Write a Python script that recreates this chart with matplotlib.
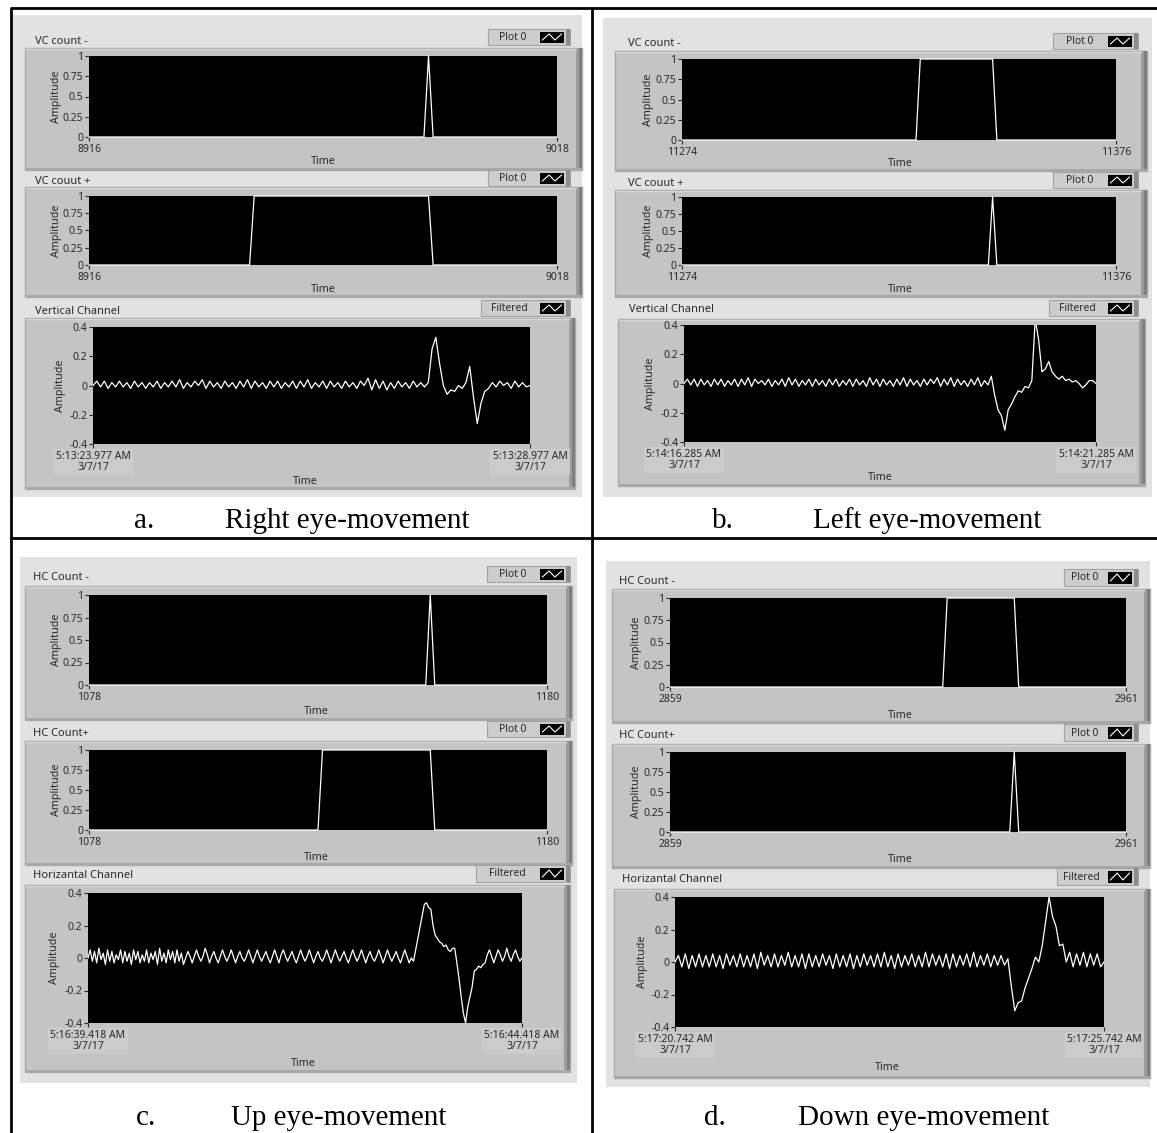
import numpy as np
import matplotlib.pyplot as plt
from matplotlib.patches import Rectangle

plt.rcParams['font.family'] = ['Noto Sans', 'DejaVu Sans']

# ---- count channels: sample index / value at the corners of each pulse ----
a_minus_x = [8916, 8989, 8990, 8991, 9018]
a_minus_y = [0, 0, 1, 0, 0]
a_plus_x = [8916, 8951, 8952, 8990, 8991, 9018]
a_plus_y = [0, 0, 1, 1, 0, 0]
b_minus_x = [11274, 11329, 11330, 11347, 11348, 11376]
b_minus_y = [0, 0, 1, 1, 0, 0]
b_plus_x = [11274, 11346, 11347, 11348, 11376]
b_plus_y = [0, 0, 1, 0, 0]
c_minus_x = [1078, 1153, 1154, 1155, 1180]
c_minus_y = [0, 0, 1, 0, 0]
c_plus_x = [1078, 1129, 1130, 1154, 1155, 1180]
c_plus_y = [0, 0, 1, 1, 0, 0]
d_minus_x = [2859, 2920, 2921, 2936, 2937, 2961]
d_minus_y = [0, 0, 1, 1, 0, 0]
d_plus_x = [2859, 2935, 2936, 2937, 2961]
d_plus_y = [0, 0, 1, 0, 0]

# ---- filtered channels, equally spaced samples over the 5 s window ----
a_filt = [0.00, 0.03, -0.01, 0.03, -0.02, 0.02, -0.01, 0.03, -0.01, 0.02,
          -0.02, 0.03, -0.01, 0.02, -0.02, 0.02, -0.01, 0.03, -0.02, 0.02,
          -0.01, 0.03, -0.01, 0.04, -0.02, 0.02, -0.01, 0.03, 0.00, 0.04,
          -0.02, 0.03, -0.01, 0.02, -0.02, 0.03, -0.01, 0.02, -0.02, 0.03,
          -0.01, 0.04, -0.02, 0.03, -0.01, 0.02, -0.02, 0.03, -0.01, 0.03,
          -0.02, 0.02, -0.01, 0.03, -0.02, 0.03, -0.01, 0.04, -0.02, 0.02,
          -0.01, 0.03, -0.02, 0.03, -0.01, 0.02, -0.02, 0.03, -0.01, 0.02,
          -0.02, 0.03, 0.00, 0.05, -0.03, 0.04, -0.02, 0.03, -0.03, 0.02,
          -0.02, 0.03, -0.01, 0.02, -0.02, 0.03, -0.01, 0.02, -0.01, 0.02,
          0.25, 0.33, 0.15, 0.00, -0.06, -0.03, -0.04, 0.00, -0.02, 0.02,
          0.13, -0.08, -0.26, -0.12, -0.04, -0.02, 0.02, -0.01, 0.03, 0.00,
          0.02, -0.02, 0.03, -0.01, 0.02, -0.01, 0.00]
b_filt = [0.00, 0.03, -0.01, 0.03, -0.02, 0.03, -0.01, 0.02, -0.02, 0.03,
          -0.01, 0.03, -0.02, 0.02, -0.01, 0.03, -0.02, 0.03, -0.01, 0.04,
          -0.02, 0.03, 0.00, 0.02, -0.01, 0.03, -0.02, 0.02, -0.01, 0.03,
          -0.02, 0.04, -0.01, 0.03, -0.02, 0.02, -0.01, 0.03, -0.02, 0.03,
          -0.01, 0.02, -0.02, 0.03, -0.01, 0.03, -0.02, 0.02, -0.01, 0.03,
          -0.02, 0.03, -0.01, 0.02, -0.02, 0.04, -0.01, 0.03, -0.02, 0.03,
          -0.01, 0.02, -0.02, 0.03, -0.01, 0.04, -0.02, 0.03, -0.01, 0.02,
          -0.02, 0.03, -0.01, 0.03, 0.00, 0.04, -0.02, 0.03, -0.01, 0.04,
          -0.02, 0.03, -0.01, 0.02, -0.02, 0.03, -0.01, 0.04, -0.02, 0.02,
          -0.01, 0.05, -0.08, -0.18, -0.22, -0.32, -0.18, -0.14, -0.09, -0.05,
          -0.06, -0.02, -0.03, 0.02, 0.44, 0.30, 0.08, 0.10, 0.15, 0.08,
          0.05, 0.03, 0.05, 0.02, 0.03, 0.01, 0.02, 0.00, -0.03, -0.01,
          0.02, 0.02, 0.00]
c_filt = [0.00, 0.05, -0.02, 0.04, -0.03, 0.06, -0.01, 0.03, -0.04, 0.05,
          -0.02, 0.04, -0.03, 0.02, -0.01, 0.05, -0.03, 0.04, -0.02, 0.03,
          -0.04, 0.05, -0.01, 0.04, -0.03, 0.02, -0.02, 0.05, -0.03, 0.03,
          -0.01, 0.04, -0.04, 0.06, -0.02, 0.03, -0.03, 0.05, -0.01, 0.04,
          -0.03, 0.05, -0.02, 0.03, -0.04,
          0.00, 0.04, 0.01, -0.03, 0.01, 0.05, 0.01, -0.02, 0.01, 0.06, 0.02, -0.03,
          0.01, 0.04, 0.00, -0.03, 0.01, 0.05, 0.01, -0.02, 0.01, 0.05, 0.01, -0.03,
          0.01, 0.04, 0.00, -0.02, 0.01, 0.05, 0.01, -0.03, 0.01, 0.05, 0.01, -0.02,
          0.01, 0.04, 0.00, -0.03, 0.01, 0.05, 0.01, -0.03, 0.02, 0.05, 0.01, -0.02,
          0.01, 0.04, 0.00, -0.03, 0.01, 0.05, 0.01, -0.02, 0.01, 0.05, 0.01, -0.03,
          0.01, 0.04, 0.00, -0.02, 0.01, 0.05, 0.01, -0.03, 0.01, 0.05, 0.01, -0.02,
          0.01, 0.04, 0.00, -0.03, 0.01, 0.05, 0.01, -0.02, 0.01, 0.05, 0.01, -0.03,
          0.01, 0.04, 0.00, -0.02, 0.01, 0.05, 0.01, -0.03, 0.01, 0.05, 0.01, -0.02,
          0.01, 0.04, 0.00, -0.03, 0.01, 0.05, 0.01, -0.03, 0.00,
          -0.02, 0.05, 0.12, 0.19, 0.26, 0.33, 0.34, 0.31, 0.30, 0.20,
          0.14, 0.12, 0.10, 0.09, 0.07, 0.08, 0.05, 0.04, 0.06, 0.06,
          -0.03, -0.13, -0.24, -0.34, -0.40, -0.30, -0.24, -0.18, -0.08, -0.07,
          -0.05, -0.06, -0.04, -0.03, 0.02, 0.05, 0.01, -0.03, 0.01, 0.05,
          0.02, -0.02, 0.01, 0.06, 0.01, -0.02, 0.02, 0.05, 0.01, -0.02, 0.00]
d_filt = [0.00, 0.04, -0.03, 0.05, -0.04, 0.04, -0.03, 0.05, -0.03, 0.04,
          -0.03, 0.05, -0.03, 0.04, -0.04, 0.05, -0.02, 0.04, -0.03, 0.05,
          -0.03, 0.04, -0.03, 0.05, -0.04, 0.06, -0.02, 0.04, -0.03, 0.05,
          -0.03, 0.04, -0.02, 0.06, -0.03, 0.04, -0.03, 0.05, -0.04, 0.05,
          -0.03, 0.04, -0.03, 0.05, -0.02, 0.04, -0.04, 0.05, -0.03, 0.04,
          -0.03, 0.05, -0.04, 0.04, -0.03, 0.05, -0.02, 0.04, -0.03, 0.05,
          -0.03, 0.06, -0.03, 0.04, -0.04, 0.05, -0.03, 0.04, -0.02, 0.05,
          -0.03, 0.04, -0.03, 0.06, -0.03, 0.05, -0.02, 0.04, -0.03, 0.05,
          -0.04, 0.05, -0.03, 0.04, -0.02, 0.05, -0.03, 0.06, -0.03, 0.04,
          -0.02, 0.05, -0.03, 0.04, -0.02, 0.04, -0.02, 0.02, -0.15, -0.30,
          -0.25, -0.24, -0.16, -0.10, -0.04, 0.03, 0.00, 0.10, 0.25, 0.40,
          0.28, 0.22, 0.10, 0.11, 0.00, 0.06, -0.03, 0.05, -0.02, 0.06,
          -0.03, 0.05, -0.02, 0.05, -0.03, 0.00]

count_ticks = [0, 0.25, 0.5, 0.75, 1]
count_labels = ['0', '0.25', '0.5', '0.75', '1']
filt_ticks = [-0.4, -0.2, 0, 0.2, 0.4]
filt_labels = ['-0.4', '-0.2', '0', '0.2', '0.4']
date = '3/7/17'

W, H = 1157, 1133
fig = plt.figure(figsize=(W / 100, H / 100), dpi=100)
fig.patch.set_facecolor('white')
bg = fig.add_axes([0, 0, 1, 1])
bg.set_xlim(0, W)
bg.set_ylim(H, 0)
bg.axis('off')

TXT = '#2a2a2a'


def box(x0, y0, x1, y1, **kw):
    bg.add_patch(Rectangle((x0, y0), x1 - x0, y1 - y0, **kw))


def bezel(x0, y0, x1, y1):
    box(x0, y0, x1, y1, facecolor='#c4c4c4', edgecolor='#a8a8a8', lw=1)
    box(x1 - 6, y0, x1, y1, facecolor='#9c9c9c', lw=0)
    box(x1 - 3, y0, x1, y1, facecolor='#808080', lw=0)
    box(x0, y1 - 2, x1, y1, facecolor='#a8a8a8', lw=0)
    bg.plot([x0 + 1, x1 - 6], [y0 + 1, y0 + 1], color='#d8d8d8', lw=1)


def legend(x0, y0, x1, y1, name):
    box(x0, y0, x1, y1, facecolor='#cdcdcd', edgecolor='#a2a2a2', lw=0.8)
    box(x1 - 4, y0, x1, y1, facecolor='#8c8c8c', lw=0)
    bg.text((x0 + x1 - 32) / 2, (y0 + y1) / 2 + 0.5, name, ha='center', va='center',
            fontsize=7.4, color=TXT)
    ix0, ix1 = x1 - 30, x1 - 6
    box(ix0, y0 + 2.5, ix1, y1 - 2.5, facecolor='black', lw=0)
    w = ix1 - ix0
    bg.plot([ix0 + 0.1 * w, ix0 + 0.38 * w, ix0 + 0.62 * w, ix0 + 0.9 * w],
            [y1 - 5, y0 + 5, y1 - 5, y0 + 5], color='white', lw=0.8)


def graph(rect, xs, ys, xlim, ylim, yticks, ylabels, xlabels, clip, timeaxis):
    x0, y0, x1, y1 = rect
    ax = fig.add_axes([x0 / W, 1 - y1 / H, (x1 - x0) / W, (y1 - y0) / H])
    ax.set_facecolor('black')
    ax.plot(xs, ys, color='white', lw=0.9, clip_on=clip)
    ax.set_xlim(xlim)
    ax.set_ylim(ylim)
    ax.set_yticks(yticks)
    ax.set_yticklabels(ylabels)
    ax.set_xticks(xlim)
    ax.set_xticklabels(xlabels)
    for s in ax.spines.values():
        s.set_visible(False)
    ax.tick_params(labelsize=7.5, colors=TXT, length=3, width=0.8, pad=1)
    ax.tick_params(axis='x', pad=2)
    if timeaxis:
        for lb in ax.get_xticklabels():
            lb.set_multialignment('center')
            lb.set_linespacing(1.0)
            lb.set_bbox(dict(facecolor='#cbcbcb', edgecolor='none', pad=1.5))
    # amplitude label to the left of the tick labels
    bg.text(x0 - 33, (y0 + y1) / 2, 'Amplitude', rotation=90, ha='center', va='center',
            fontsize=7.8, color=TXT)
    return ax


def title(x, y, s):
    bg.text(x, y, s, ha='left', va='center', fontsize=8, color=TXT)


def timelab(x, y):
    bg.text(x, y, 'Time', ha='center', va='center', fontsize=7.8, color=TXT,
            fontweight='bold')


def panel(p):
    box(*p['bg'], facecolor='#e2e2e2', lw=0)
    # two count graphs
    for k in (0, 1):
        g = p['count'][k]
        title(*g['title'])
        legend(*g['legend'], 'Plot 0')
        bezel(*g['bezel'])
        xs, ys = g['data']
        graph(g['plot'], xs, ys, (xs[0], xs[-1]), (0, 1), count_ticks, count_labels,
              [str(xs[0]), str(xs[-1])], False, False)
        timelab(*g['time'])
    f = p['filt']
    title(*f['title'])
    legend(*f['legend'], 'Filtered')
    bezel(*f['bezel'])
    vals = f['data']
    t = np.linspace(0, 5, len(vals))
    graph(f['plot'], t, vals, (0, 5), (-0.4, 0.4), filt_ticks, filt_labels,
          [f['t0'] + '\n' + date, f['t1'] + '\n' + date], True, True)
    timelab(*f['time'])


panels = [
    dict(bg=(12, 15, 582, 497),
         count=[dict(title=(35, 41, 'VC count -'), legend=(488, 29, 570, 45),
                     bezel=(25, 48, 582, 170), plot=(89, 56, 557, 137),
                     data=(a_minus_x, a_minus_y), time=(323, 162)),
                dict(title=(35, 181, 'VC couut +'), legend=(488, 170, 570, 186),
                     bezel=(25, 187, 582, 297), plot=(89, 196, 557, 265),
                     data=(a_plus_x, a_plus_y), time=(323, 289))],
         filt=dict(title=(35, 311, 'Vertical Channel'), legend=(481, 300, 570, 316),
                   bezel=(25, 318, 575, 489), plot=(93, 327, 530, 444),
                   data=a_filt, t0='5:13:23.977 AM', t1='5:13:28.977 AM',
                   time=(305, 481))),
    dict(bg=(603, 18, 1152, 497),
         count=[dict(title=(628, 44, 'VC count -'), legend=(1053, 33, 1138, 49),
                     bezel=(615, 51, 1147, 171), plot=(682, 59, 1116, 140),
                     data=(b_minus_x, b_minus_y), time=(900, 164)),
                dict(title=(628, 183, 'VC couut +'), legend=(1053, 172, 1138, 188),
                     bezel=(615, 190, 1147, 297), plot=(682, 197, 1116, 265),
                     data=(b_plus_x, b_plus_y), time=(900, 290))],
         filt=dict(title=(629, 310, 'Vertical Channel'), legend=(1049, 300, 1138, 316),
                   bezel=(618, 319, 1145, 486), plot=(684, 325, 1096, 442),
                   data=b_filt, t0='5:14:16.285 AM', t1='5:14:21.285 AM',
                   time=(880, 478))),
    dict(bg=(20, 557, 577, 1083),
         count=[dict(title=(33, 578, 'HC Count -'), legend=(487, 566, 570, 582),
                     bezel=(25, 586, 572, 720), plot=(89, 595, 547, 685),
                     data=(c_minus_x, c_minus_y), time=(316, 712)),
                dict(title=(33, 733, 'HC Count+'), legend=(487, 721, 570, 737),
                     bezel=(25, 741, 572, 865), plot=(89, 750, 547, 830),
                     data=(c_plus_x, c_plus_y), time=(316, 857))],
         filt=dict(title=(33, 876, 'Horizantal Channel'), legend=(476, 865, 570, 882),
                   bezel=(25, 885, 570, 1072), plot=(88, 893, 522, 1023),
                   data=c_filt, t0='5:16:39.418 AM', t1='5:16:44.418 AM',
                   time=(303, 1064))),
    dict(bg=(606, 561, 1150, 1087),
         count=[dict(title=(619, 581, 'HC Count -'), legend=(1064, 569, 1138, 586),
                     bezel=(612, 589, 1150, 723), plot=(670, 598, 1126, 687),
                     data=(d_minus_x, d_minus_y), time=(900, 715)),
                dict(title=(619, 736, 'HC Count+'), legend=(1064, 724, 1138, 741),
                     bezel=(612, 744, 1150, 868), plot=(670, 752, 1126, 832),
                     data=(d_plus_x, d_plus_y), time=(900, 860))],
         filt=dict(title=(622, 879, 'Horizantal Channel'), legend=(1057, 868, 1138, 885),
                   bezel=(614, 889, 1150, 1078), plot=(675, 897, 1104, 1027),
                   data=d_filt, t0='5:17:20.742 AM', t1='5:17:25.742 AM',
                   time=(887, 1068))),
]

for p in panels:
    panel(p)

# table rules
for xs, ys in [((10, W), (8, 8)), ((11, 11), (8, H)), ((592, 592), (8, H)),
               ((10, W), (538, 538))]:
    bg.plot(xs, ys, color='black', lw=2, solid_capstyle='butt')

# captions
cap = dict(fontfamily=['Liberation Serif', 'DejaVu Serif'], fontsize=21, color='black',
           va='baseline', ha='left')
bg.text(134, 528, 'a.', **cap)
bg.text(225, 528, 'Right eye-movement', **cap)
bg.text(712, 528, 'b.', **cap)
bg.text(813, 528, 'Left eye-movement', **cap)
bg.text(136, 1125, 'c.', **cap)
bg.text(231, 1125, 'Up eye-movement', **cap)
bg.text(704, 1125, 'd.', **cap)
bg.text(798, 1125, 'Down eye-movement', **cap)

fig.savefig('out.png', dpi=100)
